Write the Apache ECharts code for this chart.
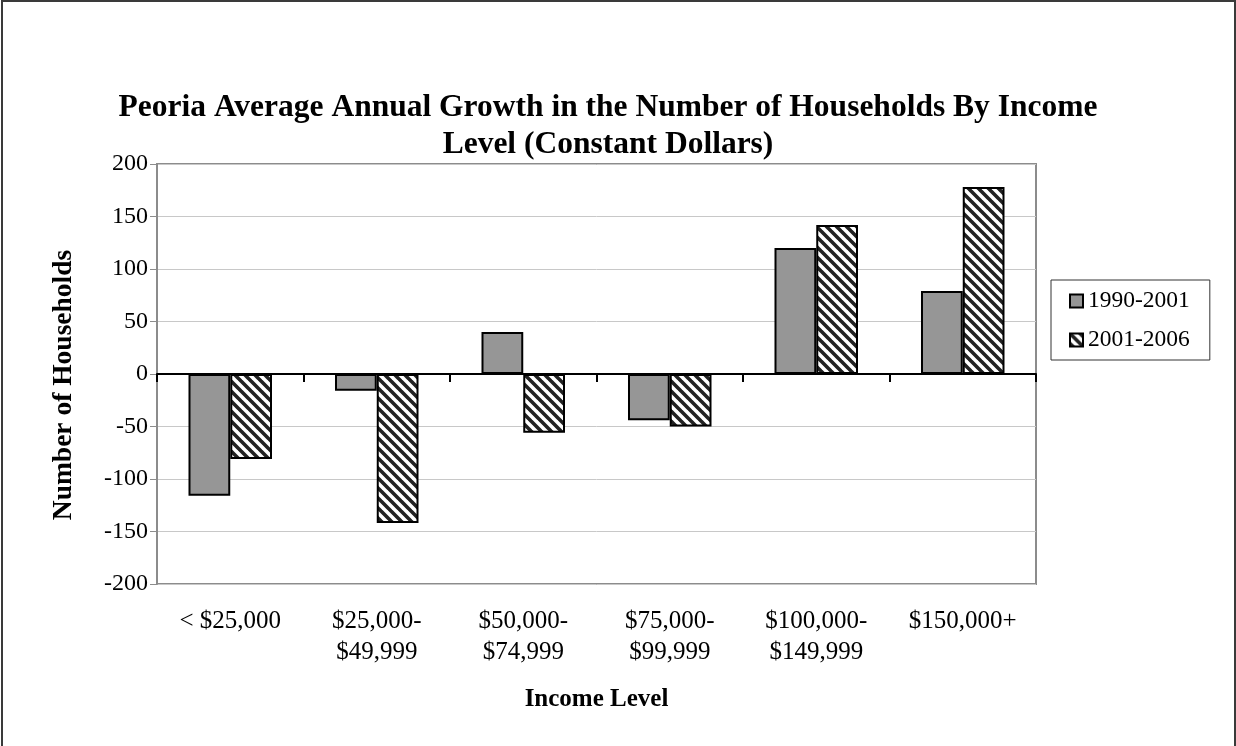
<!DOCTYPE html>
<html>
<head>
<meta charset="utf-8">
<script src="https://cdn.jsdelivr.net/npm/echarts@6/dist/echarts.min.js"></script>
<style>
html,body{margin:0;padding:0;background:#fff;}
#chart{width:1236px;height:746px;}
</style>
</head>
<body>
<div id="chart"></div>
<script>
const titleText = "Peoria Average Annual Growth in the Number of Households By Income\nLevel (Constant Dollars)";
const categories = ["< $25,000", "$25,000-\n$49,999", "$50,000-\n$74,999", "$75,000-\n$99,999", "$100,000-\n$149,999", "$150,000+"];
const series1990 = [-116, -16, 40, -44, 120, 79];
const series2001 = [-81, -142, -56, -50, 142, 178];
const seriesNames = ["1990-2001", "2001-2006"];
const yTicks = { min: -200, max: 200, interval: 50 };

const FONT = '"Liberation Serif", "Times New Roman", serif';

function hatchPattern() {
  const s = 10;
  const c = document.createElement('canvas');
  c.width = s; c.height = s;
  const g = c.getContext('2d');
  g.fillStyle = '#ffffff';
  g.fillRect(0, 0, s, s);
  g.strokeStyle = '#222222';
  g.lineWidth = 3.6;
  g.beginPath();
  for (let k = -1; k <= 1; k++) {
    g.moveTo(k * s - 1, -1);
    g.lineTo(k * s + s + 1, s + 1);
  }
  g.stroke();
  return { image: c, repeat: 'repeat' };
}

const chart = echarts.init(document.getElementById('chart'));
chart.setOption({
  backgroundColor: '#ffffff',
  animation: false,
  graphic: [{
    type: 'rect',
    shape: { x: 2, y: 1, width: 1233, height: 800 },
    style: { fill: 'none', stroke: '#3a3a3a', lineWidth: 2 },
    silent: true
  }],
  title: {
    text: titleText,
    left: 603,
    top: 84,
    textAlign: 'center',
    textStyle: { fontFamily: FONT, fontWeight: 'bold', fontSize: 31.5, lineHeight: 37, color: '#000' }
  },
  legend: {
    orient: 'vertical',
    left: 1051,
    top: 280,
    padding: [9, 20, 8, 18],
    itemGap: 15,
    itemWidth: 13,
    itemHeight: 13,
    icon: 'rect',
    borderColor: '#333',
    borderWidth: 1,
    textStyle: { fontFamily: FONT, fontSize: 23.5, lineHeight: 24, color: '#000' },
    data: seriesNames
  },
  grid: {
    left: 157, right: 200, top: 164, bottom: 162,
    show: true, borderColor: '#8c8c8c', borderWidth: 2, backgroundColor: '#fff',
    containLabel: false
  },
  xAxis: [{
    type: 'category',
    data: categories,
    position: 'bottom',
    axisLine: { show: false, onZero: false },
    axisTick: { show: false },
    axisLabel: { fontFamily: FONT, fontSize: 25, lineHeight: 31, color: '#000', margin: 22, interval: 0 },
    name: 'Income Level',
    nameLocation: 'middle',
    nameGap: 103,
    nameMoveOverlap: false,
    nameTextStyle: { fontFamily: FONT, fontWeight: 'bold', fontSize: 25, color: '#000' }
  }, {
    type: 'category',
    data: categories,
    position: 'bottom',
    axisLine: { show: true, onZero: true, lineStyle: { color: '#000', width: 2 } },
    axisTick: { show: true, length: 8, inside: false, lineStyle: { color: '#000', width: 2 } },
    axisLabel: { show: false }
  }],
  yAxis: {
    type: 'value',
    min: yTicks.min, max: yTicks.max, interval: yTicks.interval,
    axisLine: { show: true, lineStyle: { color: '#8c8c8c', width: 2 } },
    axisTick: { show: true, length: 7, lineStyle: { color: '#8c8c8c', width: 1 } },
    axisLabel: { fontFamily: FONT, fontSize: 24, color: '#000', margin: 9 },
    splitLine: { show: true, lineStyle: { color: '#c8c8c8', width: 1 } },
    name: 'Number of Households',
    nameLocation: 'middle',
    nameRotate: 90,
    nameGap: 79,
    nameMoveOverlap: false,
    nameTextStyle: { fontFamily: FONT, fontWeight: 'bold', fontSize: 27.5, color: '#000', padding: [0, 22, 0, 0] }
  },
  series: [{
    name: seriesNames[0],
    type: 'bar',
    xAxisIndex: 0,
    data: series1990,
    barGap: '0%',
    barCategoryGap: '43%',
    itemStyle: { color: '#969696', borderColor: '#000', borderWidth: 2 }
  }, {
    name: seriesNames[1],
    type: 'bar',
    xAxisIndex: 0,
    data: series2001,
    barGap: '0%',
    barCategoryGap: '43%',
    itemStyle: { color: hatchPattern(), borderColor: '#000', borderWidth: 2 }
  }]
});
</script>
</body>
</html>
